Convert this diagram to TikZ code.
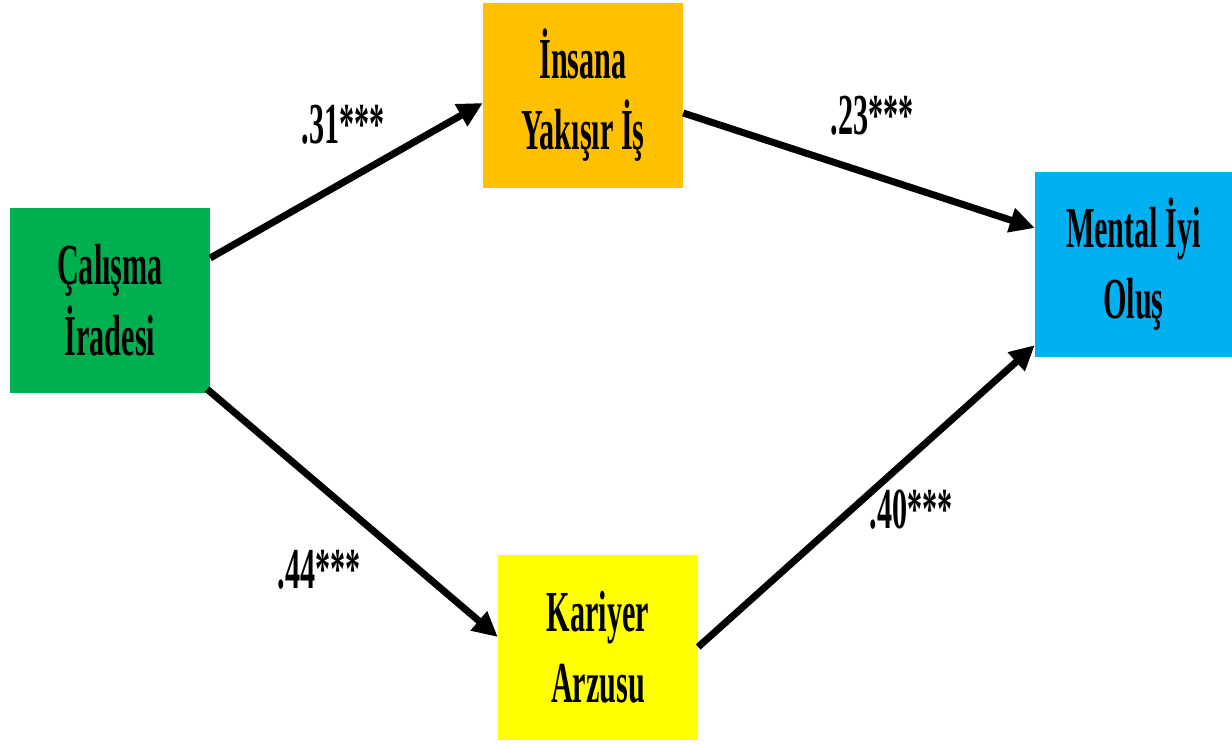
\documentclass[tikz,border=0pt]{standalone}
\usepackage{fontspec}
\setmainfont{Liberation Serif}[FakeStretch=0.52]
\usetikzlibrary{arrows.meta}
\definecolor{boxgreen}{HTML}{00B050}
\definecolor{boxorange}{HTML}{FFC000}
\definecolor{boxblue}{HTML}{00B0F0}
\definecolor{boxyellow}{HTML}{FFFF00}
\tikzset{
  x=1pt, y=1pt,
  varbox/.style={inner sep=0pt, minimum width=200pt, minimum height=185pt,
    align=center, font=\fontsize{58}{71}\selectfont\bfseries},
  path/.style={line width=7pt, -{Triangle[length=25pt,width=24pt]}},
  coef/.style={font=\fontsize{58}{60}\selectfont\bfseries}
}
\begin{document}
\begin{tikzpicture}
\useasboundingbox (0,0) rectangle (1232,744);
% variables
\node[varbox, fill=boxgreen] (g) at (110,443.5) {Çalışma\\İradesi};
\node[varbox, fill=boxorange] (o) at (583,648.5) {İnsana\\Yakışır İş};
\node[varbox, fill=boxblue, minimum width=197pt] (b) at (1133.5,479.5) {Mental İyi\\Oluş};
\node[varbox, fill=boxyellow] (y) at (598,96.5) {Kariyer\\Arzusu};
% structural paths
\draw[path] ([yshift=42.5pt]g.east) -- ([yshift=-7.5pt]o.west);
\draw[path] ([yshift=-17.5pt]o.east) -- ([yshift=36.5pt]b.west);
\draw[path] ([xshift=-3pt,yshift=4pt]g.south east) -- ([yshift=10.5pt]y.west);
\draw[path] ([yshift=0.5pt]y.east) -- ([yshift=12pt]b.south west);
% path coefficients
\node[coef] (c1) at (343,619) {.31***};
\node[coef] (c2) at (872,628) {.23***};
\node[coef] (c3) at (319,174) {.44***};
\node[coef] (c4) at (911,234) {.40***};
\end{tikzpicture}
\end{document}
